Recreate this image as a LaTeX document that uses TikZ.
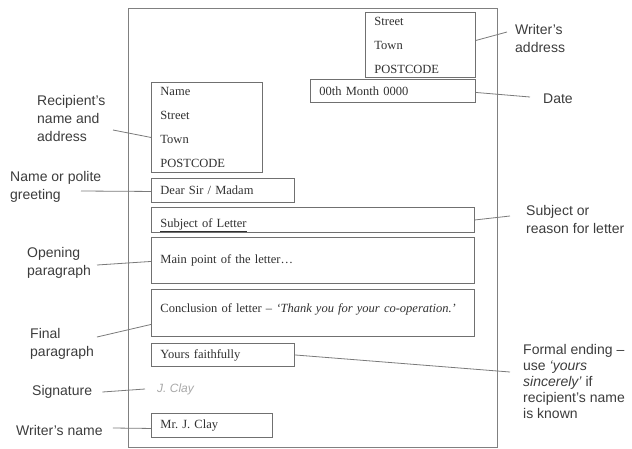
\documentclass[tikz,border=0pt]{standalone}
\usepackage{fontspec}
\setmainfont{Liberation Serif}
\newfontfamily\labelfont{Liberation Sans}
\definecolor{boxgray}{HTML}{707070}
\definecolor{pagegray}{HTML}{808080}
\definecolor{linegray}{HTML}{7A7A7A}
\definecolor{textgray}{HTML}{303030}
\definecolor{labelgray}{HTML}{3C3C3C}
\definecolor{siggray}{HTML}{A8A8A8}

\begin{document}
\begin{tikzpicture}[x=1pt, y=-1pt,
    part/.style={draw=boxgray, line width=0.9pt, anchor=north west, inner xsep=9pt, inner ysep=0pt,
      align=left, text=textgray, font=\fontsize{12.5}{24}\selectfont},
    tag/.style={anchor=west, inner sep=0pt, align=left, text=labelgray,
      font=\labelfont\fontsize{14}{18}\selectfont},
    leader/.style={draw=linegray, line width=0.8pt}]
    \useasboundingbox (0,0) rectangle (632,448);

    % Draw the page
    \node[draw=pagegray, line width=0.9pt, anchor=north west, inner sep=0pt,
      minimum width=369, minimum height=439] (page) at (128,8) {};

    % Draw the parts of the letter
    \node[part, text width=92, minimum height=65] (waddr) at (365,12) {Street\\Town\\POSTCODE};
    \node[part, text width=147, minimum height=23] (date) at (310,79) {00th Month 0000};
    \node[part, text width=93, minimum height=90] (raddr) at (151,82) {Name\\Street\\Town\\POSTCODE};
    \node[part, text width=125, minimum height=24] (greet) at (151,178) {Dear Sir / Madam};
    \node[part, text width=305, minimum height=25] (subj) at (151,207)
      {\raisebox{-5pt}[8pt][3pt]{\underline{Subject of Letter}}};
    \node[part, text width=305, minimum height=46] (main) at (151,237) {Main point of the letter\ldots};
    \node[part, text width=305, minimum height=47] (concl) at (151,289)
      {\raisebox{3pt}[8pt][3pt]{Conclusion of letter – \textit{‘Thank you for your co-operation.’}}};
    \node[part, text width=125, minimum height=23] (close) at (151,343) {Yours faithfully};
    \node[anchor=west, inner sep=0pt, text=siggray, font=\labelfont\itshape\fontsize{12}{14}\selectfont] (sig) at (157,389) {J. Clay};
    \node[part, text width=103, minimum height=24] (wname) at (151,413) {Mr.\ J. Clay};

    % Labels on the right
    \node[tag] (wrl) at (515,38) {Writer’s\\address};
    \node[tag] (datel) at (543,99) {Date};
    \node[tag] (subjl) at (526,219.5) {Subject or\\reason for letter};
    \node[tag, font=\labelfont\fontsize{14}{16}\selectfont] (formal) at (523,381.5)
      {Formal ending –\\use \textit{‘yours}\\\textit{sincerely’} if\\recipient’s name\\is known};

    % Labels on the left
    \node[tag] (recipl) at (37,118) {Recipient’s\\name and\\address};
    \node[tag] (greetl) at (10,186.5) {Name or polite\\greeting};
    \node[tag] (openl) at (27,263) {Opening\\paragraph};
    \node[tag] (finall) at (30,344) {Final\\paragraph};
    \node[tag] (sigl) at (32,392) {Signature};
    \node[tag] (wnamel) at (16,430) {Writer’s name};

    % Leader lines
    \draw[leader] ([yshift=4.5pt]waddr.east) -- ([xshift=-8pt,yshift=6pt]wrl.west);
    \draw[leader] ([yshift=-1.5pt]date.east) -- ([xshift=-13pt,yshift=2pt]datel.west);
    \draw[leader] (subj.east) -- ([xshift=-16pt,yshift=3.5pt]subjl.west);
    \draw[leader] (close.east) -- ([xshift=-13pt,yshift=9.5pt]formal.west);
    \draw[leader] ([xshift=76pt,yshift=-12pt]recipl.west) -- ([yshift=-10pt]raddr.west);
    \draw[leader] ([xshift=71pt,yshift=-4.5pt]greetl.west) -- ([yshift=-1pt]greet.west);
    \draw[leader] ([xshift=70pt,yshift=-2pt]openl.west) -- ([yshift=-1pt]main.west);
    \draw[leader] ([xshift=67pt,yshift=7pt]finall.west) -- ([yshift=-11.5pt]concl.west);
    \draw[leader] ([xshift=10pt]sigl.east) -- ([xshift=-12pt]sig.west);
    \draw[leader] ([xshift=10pt,yshift=2pt]wnamel.east) -- ([yshift=-3pt]wname.west);
\end{tikzpicture}
\end{document}
